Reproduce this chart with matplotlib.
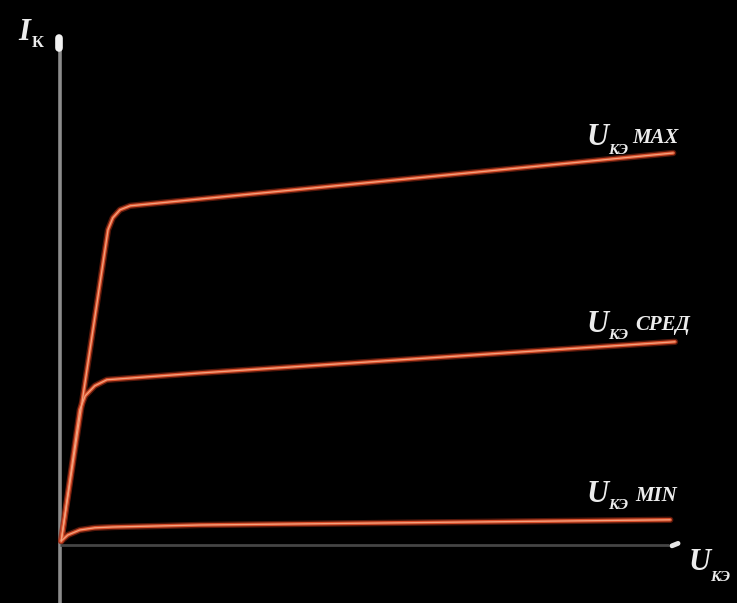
import matplotlib
matplotlib.use("Agg")
import matplotlib.pyplot as plt

# Output characteristics of a transistor: collector current I_K vs U_KE
# for three base-emitter voltages (arbitrary units).
u_max = [0.02, 0.80, 0.88, 1.00, 1.17, 10.22]
i_max = [0.10, 7.88, 8.18, 8.38, 8.48, 9.80]

u_med = [0.02, 0.33, 0.42, 0.58, 0.78, 2.33, 10.25]
i_med = [0.10, 3.38, 3.73, 3.98, 4.13, 4.30, 5.08]

u_min = [0.02, 0.13, 0.33, 0.58, 0.88, 2.33, 10.17]
i_min = [0.10, 0.25, 0.375, 0.43, 0.45, 0.50, 0.63]

curve_names = ["MAX", "СРЕД", "MIN"]

fig = plt.figure(figsize=(7.37, 6.03), dpi=100, facecolor="black")
ax = fig.add_axes([0, 0, 1, 1])
ax.set_facecolor("black")
ax.set_xlim(-1.0, 11.283)
ax.set_ylim(-1.45, 13.625)
ax.axis("off")

# axes lines
ax.plot([0, 0], [-1.45, 12.55], color="#8c8c8c", lw=2.6, solid_capstyle="butt", zorder=1)
ax.plot([0, 10.15], [0, 0], color="#454545", lw=2.0, solid_capstyle="butt", zorder=1)
# arrow tips
ax.plot([-0.02, -0.02], [12.42, 12.68], color="#f2f2f2", lw=5.5,
        solid_capstyle="round", zorder=2)
ax.plot([10.2, 10.3], [-0.02, 0.04], color="#e6e6e6", lw=3.5,
        solid_capstyle="round", zorder=2)

# characteristic curves with a bright core
for u, i in [(u_max, i_max), (u_med, i_med), (u_min, i_min)]:
    ax.plot(u, i, color="#9a2a14", lw=4.6, alpha=0.55, solid_joinstyle="round",
            solid_capstyle="round", zorder=2)
    ax.plot(u, i, color="#d9502c", lw=2.6, solid_joinstyle="round",
            solid_capstyle="round", zorder=3)
    ax.plot(u, i, color="#f3a27e", lw=0.9, solid_joinstyle="round",
            solid_capstyle="round", zorder=4)

txt = "#ececec"
serif = ["Liberation Serif", "DejaVu Serif"]

def u_label(x, y, sub_dx, sub_dy, name_dx, name_dy, name, big=22, sub=11, small=15):
    ax.text(x, y, "U", color=txt, fontsize=big, family=serif, style="italic",
            weight="bold", ha="left", va="baseline")
    ax.text(x + sub_dx, y + sub_dy, "КЭ", color=txt, fontsize=sub, family=serif,
            style="italic", weight="bold", ha="left", va="baseline")
    if name:
        ax.text(x + name_dx, y + name_dy, name, color=txt, fontsize=small,
                family=serif, style="italic", weight="bold", ha="left",
                va="baseline")

u_label(8.78, 10.00, 0.36, -0.22, 0.75, 0.05, curve_names[0])
u_label(8.78, 5.33, 0.36, -0.17, 0.80, 0.05, curve_names[1])
u_label(8.78, 1.08, 0.36, -0.17, 0.80, 0.02, curve_names[2])

# axis titles
u_label(10.47, -0.63, 0.37, -0.27, 0, 0, None)
ax.text(-0.70, 12.63, "I", color=txt, fontsize=22, family=serif, style="italic",
        weight="bold", ha="left", va="baseline")
ax.text(-0.47, 12.45, "К", color=txt, fontsize=12, family=serif,
        weight="bold", ha="left", va="baseline")

fig.savefig("out.png", dpi=100, facecolor="black")
